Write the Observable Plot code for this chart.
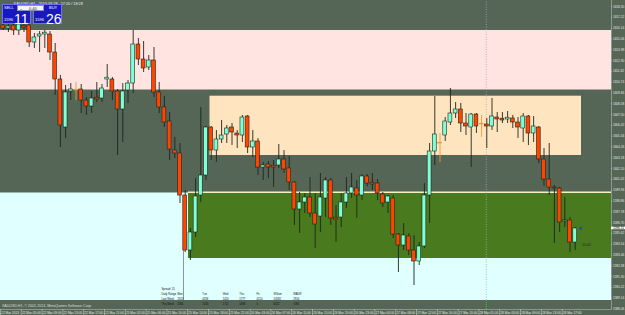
<!DOCTYPE html>
<html><head><meta charset="utf-8">
<script src="https://cdn.jsdelivr.net/npm/d3@7"></script>
<script src="https://cdn.jsdelivr.net/npm/@observablehq/plot@0.6"></script>
<style>
html,body{margin:0;padding:0;background:#566656;}
#wrap{position:relative;width:625px;height:315px;overflow:hidden;font-family:"Liberation Sans",sans-serif;}
#wrap svg{display:block;}
.box{position:absolute;top:4px;width:29px;height:20px;background:#1818c0;border:1px solid #7070ff;box-sizing:border-box;color:#fff;}
.lbl{position:absolute;font-size:4px;line-height:4px;color:#fff;}
.big{position:absolute;font-size:14px;line-height:14px;color:#fff;}
.inp{position:absolute;left:17px;top:5px;width:27px;height:6px;background:#f4f4f4;border:1px solid #9090c0;box-sizing:border-box;font-size:4px;line-height:5px;color:#222;}
</style></head><body><div id="wrap"></div>
<script>
// ---- candle data (XAUUSD H1, 22-28 Mar 2013) ----
const opens = [1616.4,1616.1,1616.4,1615.9,1616.3,1616.4,1614.7,1615.3,1615.5,1615.5,1613.7,1611.0,1606.2,1609.8,1609.9,1610.0,1608.9,1608.3,1609.1,1609.1,1611.0,1611.0,1609.8,1608.0,1609.9,1610.6,1614.5,1613.0,1612.2,1612.9,1609.7,1608.2,1606.8,1603.9,1603.6,1599.4,1593.9,1595.7,1599.4,1601.4,1606.2,1603.9,1605.0,1605.5,1606.2,1605.6,1605.4,1607.3,1604.2,1604.8,1602.2,1602.5,1602.3,1602.4,1603.0,1602.1,1600.7,1598.0,1598.7,1599.2,1597.6,1597.3,1599.1,1600.9,1597.1,1597.2,1598.7,1599.6,1600.1,1599.4,1601.3,1600.6,1600.6,1599.5,1598.7,1599.1,1595.5,1594.4,1595.3,1593.9,1592.8,1594.3,1599.4,1603.8,1604.6,1605.4,1606.7,1607.6,1608.0,1606.6,1606.2,1607.5,1606.5,1606.5,1606.3,1607.2,1607.0,1607.0,1607.1,1606.7,1606.1,1607.3,1605.6,1606.2,1603.0,1601.0,1600.2,1600.1,1596.8,1596.9,1594.7];
const highs = [1616.7,1616.5,1616.6,1616.9,1616.7,1616.7,1615.6,1615.8,1615.9,1615.8,1614.6,1611.4,1610.4,1610.6,1610.7,1610.5,1609.2,1609.8,1610.7,1610.5,1612.5,1611.2,1610.0,1610.6,1610.9,1615.9,1615.1,1614.8,1613.4,1614.2,1610.7,1609.3,1607.7,1605.2,1604.6,1599.9,1596.1,1601.1,1608.2,1606.3,1606.3,1605.9,1606.9,1606.4,1606.6,1605.9,1607.4,1607.4,1605.9,1605.1,1602.7,1602.8,1602.9,1604.5,1603.9,1603.3,1600.8,1599.7,1599.6,1601.2,1599.6,1601.6,1601.2,1601.1,1598.4,1599.6,1601.2,1601.6,1600.9,1601.5,1601.5,1601.6,1601.0,1599.7,1599.4,1599.4,1595.6,1596.6,1595.6,1595.4,1594.7,1600.6,1604.6,1609.3,1605.6,1607.2,1610.1,1608.7,1608.6,1607.6,1607.6,1607.6,1607.4,1607.1,1609.1,1607.7,1607.7,1607.8,1607.4,1607.2,1607.6,1607.4,1607.3,1606.3,1604.1,1604.6,1600.4,1600.2,1599.2,1597.2,1596.2];
const lows = [1615.9,1615.7,1615.4,1615.4,1615.7,1614.2,1614.1,1613.7,1614.1,1612.9,1609.4,1604.2,1605.1,1608.9,1608.9,1607.6,1607.4,1607.6,1608.7,1608.7,1610.2,1608.9,1603.4,1604.7,1608.6,1609.6,1612.4,1611.7,1611.9,1609.2,1607.6,1606.2,1602.9,1603.1,1598.6,1593.7,1592.9,1595.2,1598.7,1600.9,1602.9,1602.7,1604.6,1604.6,1604.4,1604.1,1604.7,1603.6,1603.2,1601.4,1600.9,1601.1,1600.2,1602.1,1601.6,1599.9,1596.4,1595.6,1597.6,1597.2,1594.1,1595.7,1597.2,1596.4,1594.7,1596.2,1598.1,1599.1,1597.1,1598.9,1600.3,1599.9,1598.9,1598.2,1597.6,1595.1,1591.7,1593.9,1593.4,1590.4,1592.4,1594.1,1596.6,1602.4,1602.7,1604.8,1606.4,1607.1,1605.7,1605.4,1602.2,1605.6,1605.2,1604.1,1605.9,1605.7,1606.6,1606.6,1606.1,1605.1,1604.7,1604.4,1604.7,1602.6,1600.3,1599.4,1594.6,1595.7,1596.2,1593.7,1593.9];
const closes = [1616.1,1616.3,1615.9,1616.5,1616.2,1614.7,1615.2,1615.5,1615.6,1613.7,1611.0,1606.4,1609.7,1610.0,1609.9,1608.9,1608.3,1609.1,1609.0,1610.1,1611.1,1609.8,1608.0,1609.8,1610.6,1614.5,1613.0,1612.1,1612.9,1609.7,1608.2,1606.7,1604.0,1603.6,1599.4,1593.9,1595.7,1599.3,1601.4,1606.2,1603.9,1605.0,1605.4,1606.1,1605.7,1605.4,1607.2,1604.2,1604.8,1602.2,1602.4,1602.2,1602.2,1603.0,1602.0,1600.7,1598.0,1598.7,1599.2,1597.6,1596.5,1599.2,1600.9,1597.1,1597.0,1598.7,1599.6,1600.2,1599.4,1601.3,1600.6,1600.5,1599.6,1598.6,1599.3,1595.5,1594.4,1595.4,1593.9,1592.8,1594.3,1599.4,1603.8,1605.5,1604.6,1606.8,1607.6,1608.0,1606.6,1606.3,1607.5,1606.3,1606.5,1606.3,1607.3,1607.0,1606.9,1607.1,1606.7,1606.2,1607.3,1605.6,1606.3,1603.0,1601.0,1600.2,1600.1,1596.7,1596.9,1594.7,1596.1];
const orangeBars = [14, 84, 92];

// ---- zones (price levels / bar spans) ----
const zoneFill   = ["#ffe4e1", "#e0ffff", "#ffe5bf", "#4a7a1e"];
const zoneTop    = [1615.9, 1599.65, 1609.33, 1599.65];
const zoneBottom = [1609.95, 1588.9, 1603.4, 1593.1];
const zoneFrom   = [-0.52, -0.52, 39.77, 35.63];
const zoneTo     = [116.98, 116.98, 111.21, 116.98];

// ---- axis labels ----
const priceTicks = [1618.30,1617.22,1616.14,1615.06,1613.98,1612.90,1611.82,1610.74,1609.66,1608.58,1607.50,1606.42,1605.34,1604.26,1603.18,1602.10,1601.02,1599.94,1598.86,1597.78,1596.70,1595.62,1594.54,1593.46,1592.38,1591.30,1590.22,1589.14,1588.06];
const timeLabels = ["22 Mar 2013","22 Mar 05:00","22 Mar 09:00","22 Mar 13:00","22 Mar 17:00","22 Mar 21:00","25 Mar 02:00","25 Mar 06:00","25 Mar 10:00","25 Mar 14:00","25 Mar 18:00","25 Mar 22:00","26 Mar 03:00","26 Mar 07:00","26 Mar 11:00","26 Mar 15:00","26 Mar 19:00","26 Mar 23:00","27 Mar 04:00","27 Mar 08:00","27 Mar 12:00","27 Mar 16:00","27 Mar 20:00","28 Mar 01:00","28 Mar 05:00","28 Mar 09:00","28 Mar 13:00","28 Mar 17:00"];
const bid = 1596.11, ask = 1596.26;
const countdown = "10:42";

// ---- info table ----
const infoHead = ["Mon","Tue","Wed","Thu","Fri","WSum","WADR"];
const lastWeek = ["2613","4558","1420","1777","4214","14582","2916"];
const thisWeek = ["2365","1163","1711","1083","0","6322","1581"];
const infoColBar = [33.5, 38.3, 42.2, 45.4, 48.7, 52.0, 55.8];
const spread = 15;

// ---- build ----
const candles = opens.map((o, i) => ({i, o, h: highs[i], l: lows[i], c: closes[i], orange: orangeBars.includes(i)}));
const zones = zoneFill.map((f, k) => ({f, top: zoneTop[k], bot: zoneBottom[k], x1: zoneFrom[k], x2: zoneTo[k]}));
const PMAX = 1618.9, PMIN = 1587.4;
const XMIN = -0.519, XMAX = 119.67;

const infoRows = [];
infoRows.push({x: 30.44, y: 1590.05, t: "Spread: " + spread});
infoRows.push({x: 30.44, y: 1589.5, t: "Daily Range"});
infoRows.push({x: 30.44, y: 1589.0, t: "Last Week"});
infoRows.push({x: 30.44, y: 1588.55, t: "This Week"});
infoHead.forEach((h, k) => {
  infoRows.push({x: infoColBar[k], y: 1589.5, t: h});
  infoRows.push({x: infoColBar[k], y: 1589.0, t: lastWeek[k]});
  infoRows.push({x: infoColBar[k], y: 1588.55, t: thisWeek[k]});
});

const wickColor = d => d.orange ? "#e49a3a" : "#1d261d";
const bodyFill = d => d.orange ? "#e49a3a" : (d.c > d.o ? "#7fffd4" : (d.c < d.o ? "#ff4500" : "#1d261d"));

const chart = Plot.plot({
  width: 625, height: 315,
  marginTop: 0, marginBottom: 0, marginLeft: 0, marginRight: 0,
  style: {background: "#566656", fontFamily: "Liberation Sans, sans-serif"},
  x: {type: "linear", domain: [XMIN, XMAX], axis: null},
  y: {domain: [PMIN, PMAX], axis: null},
  marks: [
    Plot.rect(zones, {x1: "x1", x2: "x2", y1: "bot", y2: "top", fill: "f"}),
    Plot.ruleY([1599.73], {x1: 35.63, x2: 116.98, stroke: "#f3efc6", strokeWidth: 1.6}),
    // chart border lines
    Plot.ruleX([116.98], {y1: 1588.0, y2: PMAX, stroke: "#9aa59a", strokeWidth: 0.8}),
    Plot.ruleY([1588.0], {x1: XMIN, x2: 116.98, stroke: "#9aa59a", strokeWidth: 0.8}),
    // vertical lines
    Plot.ruleX([92.9], {y1: 1588.9, y2: PMAX, stroke: "#a6a6c8", strokeWidth: 0.8, strokeDasharray: "1,1.5"}),
    Plot.ruleX([92.9], {y1: 1588.0, y2: 1588.9, stroke: "#30d030", strokeWidth: 1, strokeDasharray: "1,1"}),
    Plot.ruleX([34.67], {y1: 1588.9, y2: 1593.9, stroke: "#7a7a7a", strokeWidth: 0.8}),
    // candles
    Plot.ruleX(candles, {x: "i", y1: "l", y2: "h", stroke: wickColor, strokeWidth: 0.9}),
    Plot.rect(candles, {
      x1: d => d.i - 0.37, x2: d => d.i + 0.37,
      y1: d => Math.min(d.o, d.c),
      y2: d => Math.max(d.o, d.c) + (Math.abs(d.o - d.c) < 0.1 ? 0.08 : 0),
      fill: bodyFill, stroke: d => d.orange ? "#e49a3a" : "#1d261d", strokeWidth: 0.6
    }),
    // bid marker and countdown
    Plot.dot([bid], {x: 111.05, y: d => d, symbol: "square", r: 1.1, fill: "#1030ff"}),
    Plot.text([countdown], {x: 111.3, y: 1594.45, text: d => d, fontSize: 3.6, fill: "#222", textAnchor: "start"}),
    // price axis
    Plot.ruleY(priceTicks, {x1: 116.98, x2: 117.2, stroke: "#c8d0c8", strokeWidth: 0.6}),
    Plot.text(priceTicks, {x: 117.25, y: d => d, text: d => d.toFixed(2), fontSize: 3.1, fill: "#e4e8e4", textAnchor: "start"}),
    Plot.rect([bid], {x1: 117.0, x2: XMAX, y1: d => d - 0.13, y2: d => d + 0.13, fill: "#ffffff"}),
    Plot.text([bid], {x: 117.25, y: d => d, text: d => d.toFixed(2), fontSize: 3.1, fill: "#000", textAnchor: "start"}),
    // time axis
    Plot.ruleX(timeLabels, {x: (d, k) => 4 * k - 0.52, y1: 1587.4, y2: 1588.0, stroke: "#c8d0c8", strokeWidth: 0.6}),
    Plot.text(timeLabels, {x: (d, k) => 4 * k - 0.4, y: 1587.68, text: d => d, fontSize: 3.2, fill: "#e4e8e4", textAnchor: "start"}),
    // copyright and header
    Plot.text(["XAUUSD,H1, © 2001-2013, MetaQuotes Software Corp."], {x: -0.25, y: 1588.35, text: d => d, fontSize: 3.6, fill: "#d8dcd8", textAnchor: "start"}),
    Plot.text(["XAUUSD,H1   2013.03.28   17:20 / 18:28"], {x: 2.0, y: 1618.55, text: d => d, fontSize: 3.8, fill: "#e8ece8", textAnchor: "start"}),
    // info block
    Plot.text(infoRows, {x: "x", y: "y", text: "t", fontSize: 2.7, fill: "#111", textAnchor: "start"})
  ]
});
const wrap = document.getElementById("wrap");
wrap.appendChild(chart);

// trade panel overlay
const panel = document.createElement("div");
panel.innerHTML = `
<div class="box" style="left:2px"></div>
<div class="box" style="left:33px"></div>
<div class="lbl" style="left:4px;top:6px">SELL</div>
<div class="lbl" style="left:49px;top:6px">BUY</div>
<div class="inp"><span style="position:absolute;left:2px">–</span><span style="position:absolute;left:11px">0.40</span></div>
<div class="lbl" style="left:4px;top:18px">${String(bid).slice(0,4)}</div>
<div class="big" style="left:14px;top:12px">${String(bid).slice(5,7)}</div>
<div class="lbl" style="left:35px;top:18px">${String(ask).slice(0,4)}</div>
<div class="big" style="left:46px;top:12px">${String(ask).slice(5,7)}</div>`;
wrap.appendChild(panel);
</script>
</body></html>
